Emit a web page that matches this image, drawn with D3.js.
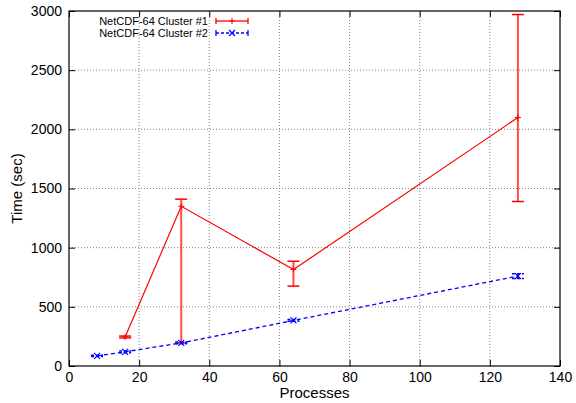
<!DOCTYPE html>
<html><head><meta charset="utf-8">
<script src="https://cdn.jsdelivr.net/npm/d3@7"></script>
<style>body{margin:0;background:#fff}svg{display:block}text{font-family:"Liberation Sans",Arial,sans-serif}</style>
</head><body><svg id="c" width="576" height="403"></svg>
<script>
const xTicks=[0,20,40,60,80,100,120,140];
const yTicks=[0,500,1000,1500,2000,2500,3000];
const c1x=[16,32,64,128];
const c1y=[245,1350,815,2100];
const c1lo=[237,195,675,1390];
const c1hi=[253,1410,885,2970];
const c2x=[8,16,32,64,128];
const c2y=[85,120,195,385,760];
const c2lo=[80,113,188,378,740];
const c2hi=[90,127,202,392,780];
const names=["NetCDF-64 Cluster #1","NetCDF-64 Cluster #2"];

const svg=d3.select("#c");
const L=69,R=560,T=11,B=366;
const x=d3.scaleLinear().domain([0,140]).range([L,R]);
const y=d3.scaleLinear().domain([0,3000]).range([B,T]);
const fmt=d3.format("d");

// grid
const g=svg.append("g");
xTicks.slice(1,-1).forEach(t=>g.append("line").attr("x1",x(t)).attr("x2",x(t)).attr("y1",T).attr("y2",B).attr("stroke","#888").attr("stroke-dasharray","1,2"));
yTicks.slice(1,-1).forEach(t=>g.append("line").attr("x1",L).attr("x2",R).attr("y1",y(t)).attr("y2",y(t)).attr("stroke","#888").attr("stroke-dasharray","1,2"));

// axes (ticks inward, mirrored)
const ax=svg.append("g").attr("transform",`translate(0,${B})`).call(d3.axisBottom(x).tickValues(xTicks).tickFormat(fmt).tickSize(-6).tickPadding(6));
const ax2=svg.append("g").attr("transform",`translate(0,${T})`).call(d3.axisTop(x).tickValues(xTicks).tickSize(-6).tickFormat(""));
const ay=svg.append("g").attr("transform",`translate(${L},0)`).call(d3.axisLeft(y).tickValues(yTicks).tickFormat(fmt).tickSize(-6).tickPadding(7));
const ay2=svg.append("g").attr("transform",`translate(${R},0)`).call(d3.axisRight(y).tickValues(yTicks).tickSize(-6).tickFormat(""));
[ax,ax2,ay,ay2].forEach(a=>{a.select(".domain").remove();a.selectAll("line").attr("stroke","#000");a.selectAll("text").attr("font-size",14).attr("fill","#000").style("font-family","Liberation Sans, Arial, sans-serif");});
svg.append("rect").attr("x",L).attr("y",T).attr("width",R-L).attr("height",B-T).attr("fill","none").attr("stroke","#000").attr("stroke-width",1.2);

// axis labels
svg.append("text").attr("x",(L+R)/2).attr("y",398).attr("text-anchor","middle").attr("font-size",15).text("Processes");
svg.append("text").attr("transform",`translate(22,${(T+B)/2}) rotate(-90)`).attr("text-anchor","middle").attr("font-size",15).text("Time (sec)");

const line=d3.line().x(d=>x(d[0])).y(d=>y(d[1]));
// series 1
const red="#f00", blue="#00f";
svg.append("path").datum(c1x.map((v,i)=>[v,c1y[i]])).attr("d",line).attr("fill","none").attr("stroke",red).attr("stroke-width",1.2);
c1x.forEach((v,i)=>{
  const cx=x(v);
  svg.append("line").attr("x1",cx).attr("x2",cx).attr("y1",y(c1lo[i])).attr("y2",y(c1hi[i])).attr("stroke",red).attr("stroke-opacity",0.7).attr("stroke-width",2);
  [c1lo[i],c1hi[i]].forEach(e=>svg.append("line").attr("x1",cx-6).attr("x2",cx+6).attr("y1",y(e)).attr("y2",y(e)).attr("stroke",red).attr("stroke-width",1.5));
  svg.append("path").attr("d",`M${cx-3},${y(c1y[i])}h6M${cx},${y(c1y[i])-3}v6`).attr("stroke",red).attr("stroke-width",1);
});
// series 2
svg.append("path").datum(c2x.map((v,i)=>[v,c2y[i]])).attr("d",line).attr("fill","none").attr("stroke",blue).attr("stroke-width",1.3).attr("stroke-dasharray","4,3");
c2x.forEach((v,i)=>{
  const cx=x(v);
  svg.append("line").attr("x1",cx).attr("x2",cx).attr("y1",y(c2lo[i])).attr("y2",y(c2hi[i])).attr("stroke",blue).attr("stroke-width",1.5);
  [c2lo[i],c2hi[i]].forEach(e=>svg.append("line").attr("x1",cx-6).attr("x2",cx+6).attr("y1",y(e)).attr("y2",y(e)).attr("stroke",blue).attr("stroke-width",1.5).attr("stroke-dasharray","3,2"));
  const cy=y(c2y[i]);
  svg.append("path").attr("d",`M${cx-3},${cy-3}L${cx+3},${cy+3}M${cx-3},${cy+3}L${cx+3},${cy-3}`).attr("stroke",blue).attr("stroke-width",1.2);
});

// legend
const lg=svg.append("g");
[0,1].forEach(i=>{
  const ly=21+i*12;
  lg.append("text").attr("x",208).attr("y",ly+4).attr("text-anchor","end").attr("font-size",11).text(names[i]);
  const col=i?blue:red;
  lg.append("line").attr("x1",216).attr("x2",248).attr("y1",ly).attr("y2",ly).attr("stroke",col).attr("stroke-width",1.3).attr("stroke-dasharray",i?"3,2":null);
  [216,248].forEach(px=>lg.append("line").attr("x1",px).attr("x2",px).attr("y1",ly-3).attr("y2",ly+3).attr("stroke",col).attr("stroke-width",1.3));
  if(i) lg.append("path").attr("d",`M229,${ly-3}L235,${ly+3}M229,${ly+3}L235,${ly-3}`).attr("stroke",col).attr("stroke-width",1.2);
  else lg.append("path").attr("d",`M229,${ly}h6M232,${ly-3}v6`).attr("stroke",col).attr("stroke-width",1);
});
</script></body></html>
